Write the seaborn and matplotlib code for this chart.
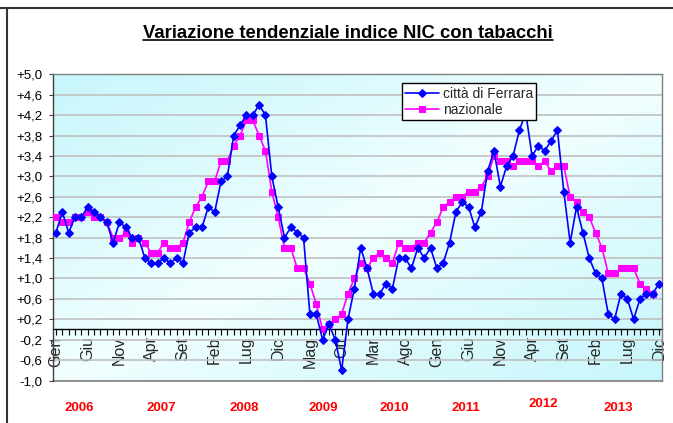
import numpy as np
import pandas as pd
import matplotlib
matplotlib.use("Agg")
import matplotlib.pyplot as plt
from matplotlib.lines import Line2D
import seaborn as sns

# ---------------- data ----------------
month_names = ["Gen", "Feb", "Mar", "Apr", "Mag", "Giu",
               "Lug", "Ago", "Set", "Ott", "Nov", "Dic"]
years = ["2006", "2007", "2008", "2009", "2010", "2011", "2012", "2013"]

ferrara = [1.9, 2.3, 1.9, 2.2, 2.2, 2.4, 2.3, 2.2, 2.1, 1.7, 2.1, 2.0,   # 2006
           1.8, 1.8, 1.4, 1.3, 1.3, 1.4, 1.3, 1.4, 1.3, 1.9, 2.0, 2.0,   # 2007
           2.4, 2.3, 2.9, 3.0, 3.8, 4.0, 4.2, 4.2, 4.4, 4.2, 3.0, 2.4,   # 2008
           1.8, 2.0, 1.9, 1.8, 0.3, 0.3, -0.2, 0.1, -0.2, -0.8, 0.2, 0.8,  # 2009
           1.6, 1.2, 0.7, 0.7, 0.9, 0.8, 1.4, 1.4, 1.2, 1.6, 1.4, 1.6,   # 2010
           1.2, 1.3, 1.7, 2.3, 2.5, 2.4, 2.0, 2.3, 3.1, 3.5, 2.8, 3.2,   # 2011
           3.4, 3.9, 4.25, 3.4, 3.6, 3.5, 3.7, 3.9, 2.7, 1.7, 2.4, 1.9,  # 2012
           1.4, 1.1, 1.0, 0.3, 0.2, 0.7, 0.6, 0.2, 0.6, 0.7, 0.7, 0.9]   # 2013

nazionale = [2.2, 2.1, 2.1, 2.2, 2.2, 2.3, 2.2, 2.2, 2.1, 1.8, 1.8, 1.9,
             1.7, 1.8, 1.7, 1.5, 1.5, 1.7, 1.6, 1.6, 1.7, 2.1, 2.4, 2.6,
             2.9, 2.9, 3.3, 3.3, 3.6, 3.8, 4.1, 4.1, 3.8, 3.5, 2.7, 2.2,
             1.6, 1.6, 1.2, 1.2, 0.9, 0.5, 0.0, 0.1, 0.2, 0.3, 0.7, 1.0,
             1.3, 1.2, 1.4, 1.5, 1.4, 1.3, 1.7, 1.6, 1.6, 1.7, 1.7, 1.9,
             2.1, 2.4, 2.5, 2.6, 2.6, 2.7, 2.7, 2.8, 3.0, 3.4, 3.3, 3.3,
             3.2, 3.3, 3.3, 3.3, 3.2, 3.3, 3.1, 3.2, 3.2, 2.6, 2.5, 2.3,
             2.2, 1.9, 1.6, 1.1, 1.1, 1.2, 1.2, 1.2, 0.9, 0.8, 0.7, np.nan]

series_names = ["città di Ferrara", "nazionale"]
title = "Variazione tendenziale indice NIC con tabacchi"

n = len(ferrara)
df = pd.DataFrame({"m": np.arange(n), "ferrara": ferrara, "nazionale": nazionale})

# ---------------- style ----------------
sns.set_theme(style="white")
plt.rcParams["font.family"] = ["Liberation Sans", "DejaVu Sans"]

W, H = 673, 423
fig = plt.figure(figsize=(W / 100, H / 100), dpi=100)
fig.patch.set_facecolor("white")

L, R, T, B = 53.3, 661.7, 74.3, 380.5
ax = fig.add_axes([L / W, 1 - B / H, (R - L) / W, (B - T) / H])

xmin, xmax = -0.42, n - 1 + 0.42
ymin, ymax = -1.0, 5.0

# gradient background (diagonal: cyan corners, pale centre)
gx = np.linspace(0, 1, 300)
gy = np.linspace(1, 0, 200)
GX, GY = np.meshgrid(gx, gy)
w = np.clip(np.abs(GX - GY), 0, 1) ** 0.9
c_edge = np.array([0.78, 0.965, 0.985])
c_mid = np.array([0.95, 1.0, 1.0])
img = c_mid[None, None, :] * (1 - w[..., None]) + c_edge[None, None, :] * w[..., None]
ax.imshow(img, extent=[xmin, xmax, ymin, ymax], aspect="auto", zorder=0,
          interpolation="bilinear")

sns.lineplot(data=df, x="m", y="ferrara", ax=ax, color="#0000FF",
             marker="D", markersize=4.5, markeredgecolor="#0000FF",
             linewidth=1.2, label=series_names[0], zorder=4)
sns.lineplot(data=df, x="m", y="nazionale", ax=ax, color="#FF00FF",
             marker="s", markersize=4.5, markeredgecolor="#FF00FF",
             linewidth=1.2, label=series_names[1], zorder=3)

ax.set_xlim(xmin, xmax)
ax.set_ylim(ymin, ymax)
ax.set_xlabel("")
ax.set_ylabel("")

# y axis
yt = np.round(np.arange(-1.0, 5.0001, 0.4), 1)
ax.set_yticks(yt)
ax.set_yticklabels([("%+.1f" % v).replace(".", ",") for v in yt])
ax.yaxis.grid(True, color="#c0c0c0", linewidth=1.2)
ax.xaxis.grid(False)
ax.set_axisbelow(True)
ax.tick_params(axis="y", left=True, direction="out", length=3, width=0.8,
               color="#404040", labelsize=9.5, pad=5, labelcolor="black")

# x axis on the zero line
ax.spines["bottom"].set_position(("data", 0))
ax.spines["bottom"].set_color("black")
ax.spines["bottom"].set_linewidth(1.0)
ax.spines["bottom"].set_zorder(2)
ax.set_xticks(np.arange(n))
labels = [month_names[i % 12] if i % 5 == 0 else "" for i in range(n)]
ax.set_xticklabels(labels)
ax.tick_params(axis="x", bottom=True, direction="out", length=4, width=0.8,
               color="black", labelsize=11.5, pad=1, labelrotation=90)
for lab in ax.get_xticklabels():
    lab.set_zorder(5)

for s in ["left", "top", "right"]:
    ax.spines[s].set_color("#808080")
    ax.spines[s].set_linewidth(1.0)
ax.spines["left"].set_color("#404040")
ax.plot([xmin, xmax], [ymin, ymin], color="#808080", lw=1.2, clip_on=False, zorder=2)

# legend
leg = ax.legend(loc="upper left", bbox_to_anchor=((401.7 - L) / (R - L), (B - 83.3) / (B - T)),
                borderaxespad=0, frameon=True, fancybox=False, shadow=False,
                edgecolor="black", facecolor="white", framealpha=1,
                fontsize=10, handlelength=2.4, handletextpad=0.3,
                labelspacing=0.15, borderpad=0.25)
leg.get_frame().set_linewidth(1.0)
leg.set_zorder(10)

# year labels under the axis
year_x = [79, 161, 244, 323, 394, 466, 543, 618]
year_y = [408, 408, 408, 408, 408, 408, 404, 408]
for yr, xp, yp in zip(years, year_x, year_y):
    fig.text(xp / W, 1 - yp / H, yr, color="#FF0000", fontsize=9.5,
             fontweight="bold", ha="center", va="center")

# title with underline
t = fig.text(348 / W, 1 - 33 / H, title, fontsize=13.3, fontweight="bold",
             ha="center", va="center", color="black")
fig.canvas.draw()
bb = t.get_window_extent()
uy = (bb.y0 + 1.0) / H
fig.add_artist(Line2D([bb.x0 / W, bb.x1 / W], [uy, uy], color="black", lw=1.2,
                      transform=fig.transFigure))

# frame lines of the original sheet
fig.add_artist(Line2D([0, 1], [1 - 8 / H, 1 - 8 / H], color="#333333", lw=1.5,
                      transform=fig.transFigure))
fig.add_artist(Line2D([7 / W, 7 / W], [0, 1 - 8 / H], color="#333333", lw=1.5,
                      transform=fig.transFigure))

fig.savefig("out.png", dpi=100, facecolor="white")
